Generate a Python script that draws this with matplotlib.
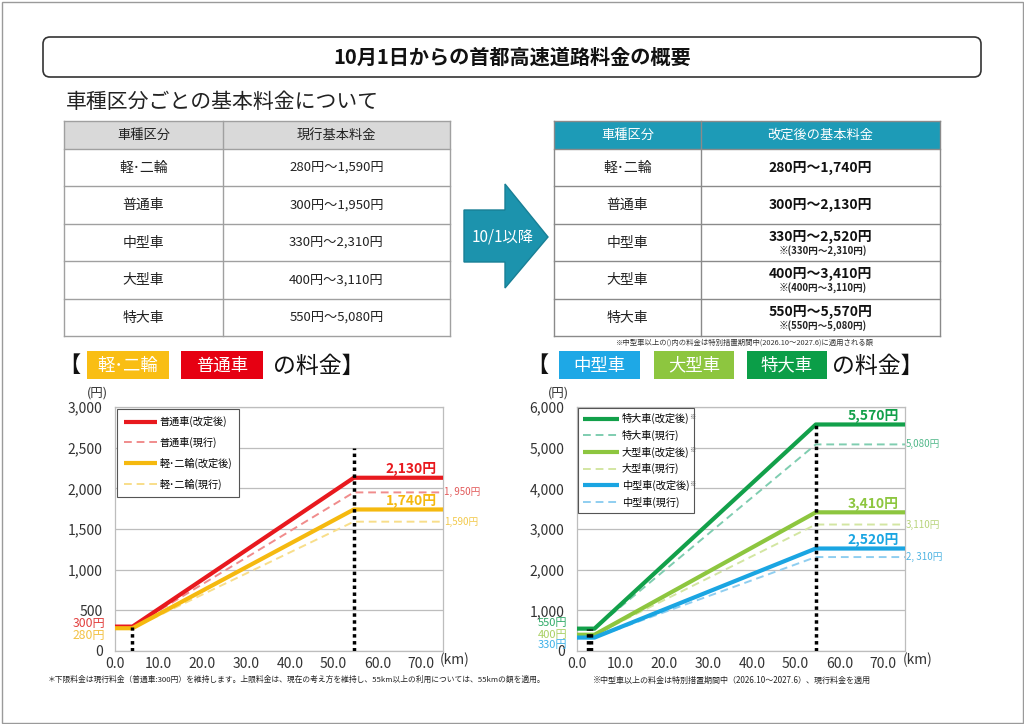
import matplotlib
matplotlib.use('Agg')
import matplotlib.pyplot as plt
from matplotlib.patches import Rectangle, FancyBboxPatch, Polygon

plt.rcParams['font.family'] = ['Noto Sans CJK JP', 'DejaVu Sans']

# ---------------- data ----------------
categories = ['軽･二輪', '普通車', '中型車', '大型車', '特大車']
min_fare = [280, 300, 330, 400, 550]
current_max = [1590, 1950, 2310, 3110, 5080]
revised_max = [1740, 2130, 2520, 3410, 5570]
special_period = [False, False, True, True, True]
current_max_labels = ['1,590円', '1, 950円', '2, 310円', '3,110円', '5,080円']

distance_km = [0, 4.0, 54.6, 75]          # breakpoints of the fare curves
x_ticks = [0, 10, 20, 30, 40, 50, 60, 70]
left_y_ticks = [0, 500, 1000, 1500, 2000, 2500, 3000]
right_y_ticks = [0, 1000, 2000, 3000, 4000, 5000, 6000]
left_dotted_km = [3.9, 54.6]
left_dotted_top = [300, 2500]
right_dotted_km = [2.5, 3.3, 54.7]
right_dotted_top = [550, 550, 5600]

# colors per category
col_new = ['#F5B90F', '#E8191E', '#1AA5E2', '#8DC63F', '#12A04A']
col_cur = ['#F8DE8A', '#F08C8C', '#8FCEF0', '#D3E6A2', '#7FCDB0']
col_cur_lbl = ['#F2C94C', '#E25A5A', '#4FB4E2', '#B8D47C', '#52B88A']
col_min_lbl = ['#F3C245', '#E2403F', '#3DB1E8', '#A9D062', '#2EAA68']

W, H = 1024, 724
fig = plt.figure(figsize=(W / 100, H / 100), dpi=100)
bg = fig.add_axes([0, 0, 1, 1])
bg.set_xlim(0, W)
bg.set_ylim(H, 0)
bg.axis('off')

# page border
bg.add_patch(Rectangle((1.5, 1.5), W - 3, H - 3, fc='white', ec='#9a9a9a', lw=1, zorder=0))

# title box
bg.add_patch(FancyBboxPatch((43, 37), 938, 40, boxstyle='round,pad=0,rounding_size=7',
                            fc='white', ec='#333333', lw=1.2))
bg.text(512, 57.5, '10月1日からの首都高速道路料金の概要', ha='center', va='center',
        fontsize=14.5, fontweight='bold', color='#111111')
bg.text(66, 102, '車種区分ごとの基本料金について', ha='left', va='center',
        fontsize=15, color='#222222')

# ---------------- tables ----------------
edges = [121, 149, 186, 224, 261, 299, 336]


def draw_table(x0, xs, x1, header_fc, header_tc, headers, line_c, revised):
    bg.add_patch(Rectangle((x0, edges[0]), x1 - x0, edges[1] - edges[0], fc=header_fc, ec='none'))
    for e in edges:
        bg.plot([x0, x1], [e, e], color=line_c, lw=1)
    for xx in (x0, xs, x1):
        bg.plot([xx, xx], [edges[0], edges[-1]], color=line_c, lw=1)
    hy = (edges[0] + edges[1]) / 2
    bg.text((x0 + xs) / 2, hy, headers[0], ha='center', va='center', fontsize=9.5, color=header_tc)
    bg.text((xs + x1) / 2, hy, headers[1], ha='center', va='center', fontsize=9.5, color=header_tc)
    for i, cat in enumerate(categories):
        top, bot = edges[i + 1], edges[i + 2]
        cy = (top + bot) / 2
        bg.text((x0 + xs) / 2, cy, cat, ha='center', va='center', fontsize=10, color='#222222')
        if not revised:
            bg.text((xs + x1) / 2, cy, f'{min_fare[i]}円～{current_max[i]:,}円', ha='center',
                    va='center', fontsize=9.5, color='#222222')
        else:
            main = f'{min_fare[i]}円～{revised_max[i]:,}円'
            if special_period[i]:
                bg.text((xs + x1) / 2, top + 12.5, main, ha='center', va='center', fontsize=10,
                        fontweight='bold', color='#111111')
                bg.text((xs + x1) / 2 + 2, top + 27, f'※({min_fare[i]}円～{current_max[i]:,}円)',
                        ha='center', va='center', fontsize=6.9, fontweight='bold', color='#222222')
            else:
                bg.text((xs + x1) / 2, cy, main, ha='center', va='center', fontsize=10,
                        fontweight='bold', color='#111111')


draw_table(64, 223, 450, '#D9D9D9', '#222222', ['車種区分', '現行基本料金'], '#A0A0A0', False)
draw_table(554, 701, 940, '#1D9BB7', 'white', ['車種区分', '改定後の基本料金'], '#8A8A8A', True)
bg.text(745, 343, '※中型車以上の()内の料金は特別措置期間中(2026.10～2027.6)に適用される額',
        ha='center', va='center', fontsize=5.3, color='#333333')

# arrow
bg.add_patch(Polygon([(464, 210), (505, 210), (505, 184), (548, 237), (505, 288), (505, 262), (464, 262)],
                     closed=True, fc='#1C93AD', ec='#187f95', lw=1))
bg.text(503, 236.5, '10/1以降', ha='center', va='center', fontsize=11, color='white')

# ---------------- headings ----------------
def heading(x_br, boxes, x_tail):
    bg.text(x_br, 366, '【', ha='left', va='center', fontsize=16, color='#111111')
    for (bx0, bx1, txt, fc) in boxes:
        bg.add_patch(Rectangle((bx0, 351), bx1 - bx0, 28, fc=fc, ec='none'))
        bg.text((bx0 + bx1) / 2, 365.5, txt, ha='center', va='center', fontsize=12.5, color='white')
    bg.text(x_tail, 366, 'の料金】', ha='left', va='center', fontsize=16.5, color='#111111')


heading(58, [(87, 169, categories[0], '#F9BE14'), (181, 263, categories[1], '#E60012')], 273)
heading(526, [(559, 640, categories[2], '#1EA8E6'), (654, 734, categories[3], '#8DC63F'),
              (747, 827, categories[4], '#0B9E48')], 832)

# ---------------- charts ----------------
def fare_curve(i, maxes):
    return [min_fare[i], min_fare[i], maxes[i], maxes[i]]


def make_axes(x0, x1, ymax, yticks):
    ax = fig.add_axes([x0 / W, (H - 651) / H, (x1 - x0) / W, 244 / H])
    ax.set_xlim(0, 75)
    ax.set_ylim(0, ymax)
    ax.set_xticks(x_ticks)
    ax.set_xticklabels([f'{v:.1f}' for v in x_ticks])
    ax.set_yticks(yticks)
    ax.set_yticklabels([f'{v:,}' for v in yticks])
    ax.tick_params(length=0, labelsize=10, colors='#333333')
    ax.tick_params(axis='y', pad=9)
    ax.tick_params(axis='x', pad=4)
    ax.grid(axis='y', color='#BDBDBD', lw=0.9)
    ax.set_axisbelow(True)
    for s in ax.spines.values():
        s.set_color('#BDBDBD')
        s.set_linewidth(0.9)
    ax.patch.set_alpha(0)
    return ax


def draw_series(ax, idxs):
    for i in idxs:
        ax.plot(distance_km, fare_curve(i, revised_max), color=col_new[i], lw=3, zorder=4,
                solid_capstyle='butt', label=f'{categories[i]}(改定後)')
        ax.plot(distance_km, fare_curve(i, current_max), color=col_cur[i], lw=1.4, ls=(0, (4, 2.5)),
                zorder=3, label=f'{categories[i]}(現行)')
        ax.annotate(f'{revised_max[i]:,}円', xy=(75, revised_max[i]), xytext=(-6, 1.5),
                    textcoords='offset pixels', ha='right', va='bottom', fontsize=10,
                    fontweight='bold', color=col_new[i])
        ax.annotate(current_max_labels[i], xy=(75, current_max[i]), xytext=(1, 0),
                    textcoords='offset pixels', ha='left', va='center', fontsize=7,
                    color=col_cur_lbl[i], annotation_clip=False)


# left chart
axL = make_axes(115, 443, 3000, left_y_ticks)
draw_series(axL, [1, 0])
axL.vlines(left_dotted_km, 0, left_dotted_top, colors='black', linestyles=(0, (1, 1)), lw=2.5, zorder=5)
for i, dy in [(1, 3), (0, -7)]:
    axL.annotate(f'{min_fare[i]}円', xy=(0, min_fare[i]), xytext=(-10, dy), textcoords='offset pixels',
                 ha='right', va='center', fontsize=8.8, color=col_min_lbl[i], annotation_clip=False)
legL = axL.legend(loc='upper left', bbox_to_anchor=(0, 1), borderaxespad=0.2, fontsize=7.3,
                  frameon=True, fancybox=False, edgecolor='#555555', framealpha=1,
                  handlelength=3.2, labelspacing=0.95, borderpad=0.7, handletextpad=0.3)
legL.get_frame().set_linewidth(0.8)

# right chart
axR = make_axes(577, 905, 6000, right_y_ticks)
draw_series(axR, [4, 3, 2])
axR.vlines(right_dotted_km, 0, right_dotted_top, colors='black', linestyles=(0, (1, 1)), lw=2.5, zorder=5)
for i, dy in [(4, 6), (3, -0.5), (2, -7)]:
    axR.annotate(f'{min_fare[i]}円', xy=(0, min_fare[i]), xytext=(-10, dy), textcoords='offset pixels',
                 ha='right', va='center', fontsize=8, color=col_min_lbl[i], annotation_clip=False)
legR = axR.legend(loc='upper left', bbox_to_anchor=(0, 1), borderaxespad=0.1, fontsize=7.3,
                  frameon=True, fancybox=False, edgecolor='#555555', framealpha=1,
                  handlelength=3.5, labelspacing=0.55, borderpad=0.5, handletextpad=0.3)
legR.get_frame().set_linewidth(0.8)

# axis unit labels
for xu in (97, 558):
    bg.text(xu, 393, '(円)', ha='center', va='center', fontsize=9, color='#333333')
for xk in (455, 918):
    bg.text(xk, 660, '(km)', ha='center', va='center', fontsize=10, color='#333333')

# footnotes
bg.text(48, 680, '＊下限料金は現行料金（普通車:300円）を維持します。上限料金は、現在の考え方を維持し、55km以上の利用については、55kmの額を適用。',
        ha='left', va='center', fontsize=5.6, color='#222222')
bg.text(593, 680, '※中型車以上の料金は特別措置期間中（2026.10～2027.6）、現行料金を適用',
        ha='left', va='center', fontsize=5.8, color='#222222')

# superscript ※ on revised entries of right legend
fig.canvas.draw()
renderer = fig.canvas.get_renderer()
for k, t in enumerate(legR.get_texts()):
    if k % 2 == 0:
        bb = t.get_window_extent(renderer)
        fig.text(bb.x1 / W, bb.y1 / H, '※', fontsize=4.5, ha='left', va='top', color='#555555')

fig.savefig('out.png', dpi=100)
